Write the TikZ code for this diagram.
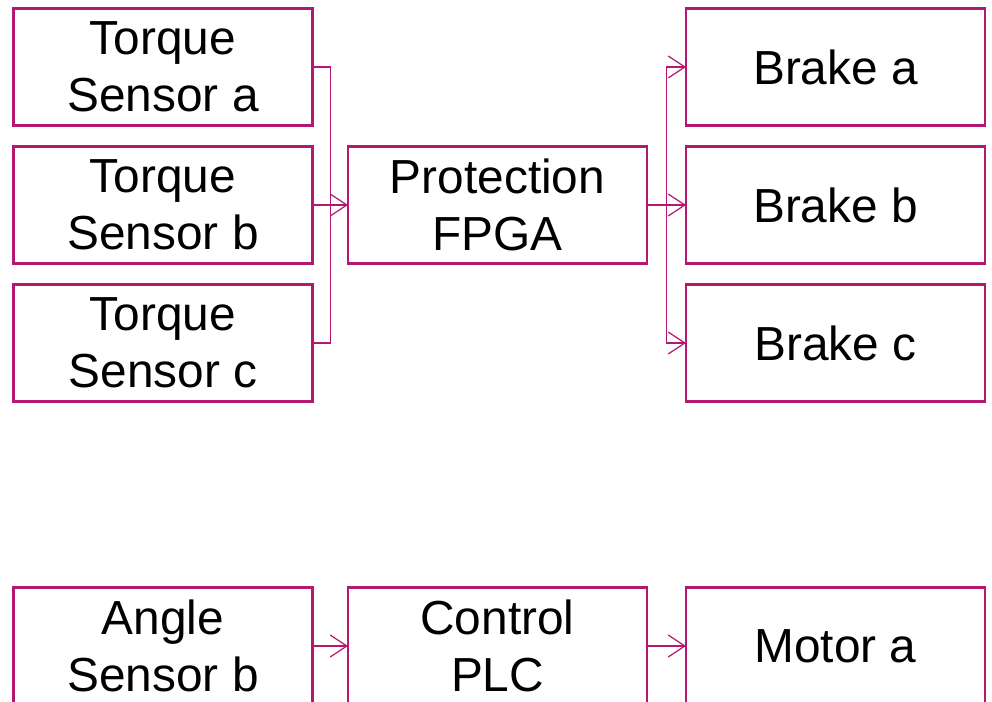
\documentclass[tikz,border=0pt]{standalone}
\usepackage{fontspec}
\setmainfont{Liberation Sans}
\usetikzlibrary{positioning,calc,arrows.meta}
\definecolor{linkmag}{RGB}{180,24,112}
\begin{document}
\begin{tikzpicture}[
        node distance=0.42cm and 0.71cm,
        box/.style={rectangle, draw=linkmag, line width=1.4pt, outer sep=0pt, minimum width=5.98cm, minimum height=2.34cm, align=center, font=\fontsize{27.2}{32.3}\selectfont},
        arrow/.style={-{Straight Barb[length=9.5pt, width=12.5pt]}, draw=linkmag, line width=0.7pt},
        link/.style={draw=linkmag, line width=0.7pt}
    ]
        \useasboundingbox (0,0) rectangle (19.84,-14.04);

        % Torque sensors
        \node[box] (ts_a) at (3.26,-1.34) {Torque\\Sensor a};
        \node[box, below=of ts_a] (ts_b) {Torque\\Sensor b};
        \node[box, below=of ts_b] (ts_c) {Torque\\Sensor c};

        % Protection
        \node[box, right=of ts_b] (fpga) {Protection\\FPGA};

        % Brakes
        \node[box, right=0.78cm of fpga] (brake_b) {Brake b};
        \node[box, above=of brake_b] (brake_a) {Brake a};
        \node[box, below=of brake_b] (brake_c) {Brake c};

        % Control loop
        \node[box, below=3.72cm of ts_c] (angle) {Angle\\Sensor b};
        \node[box, right=of angle] (plc) {Control\\PLC};
        \node[box, right=0.78cm of plc] (motor) {Motor a};

        % Junctions
        \coordinate (j_in) at ($(ts_b.east)!0.5!(fpga.west)$);
        \coordinate (j_out) at ($(fpga.east)!0.5!(brake_b.west)$);

        % Arrows
        \draw[link] (ts_a.east) -| (j_in) |- (ts_c.east);
        \draw[arrow] (ts_b.east) -- (fpga.west);
        \draw[arrow] (fpga.east) -- (brake_b.west);
        \draw[arrow] (j_out) |- (brake_a.west);
        \draw[arrow] (j_out) |- (brake_c.west);
        \draw[arrow] (angle) -- (plc);
        \draw[arrow] (plc) -- (motor);
    \end{tikzpicture}
\end{document}
